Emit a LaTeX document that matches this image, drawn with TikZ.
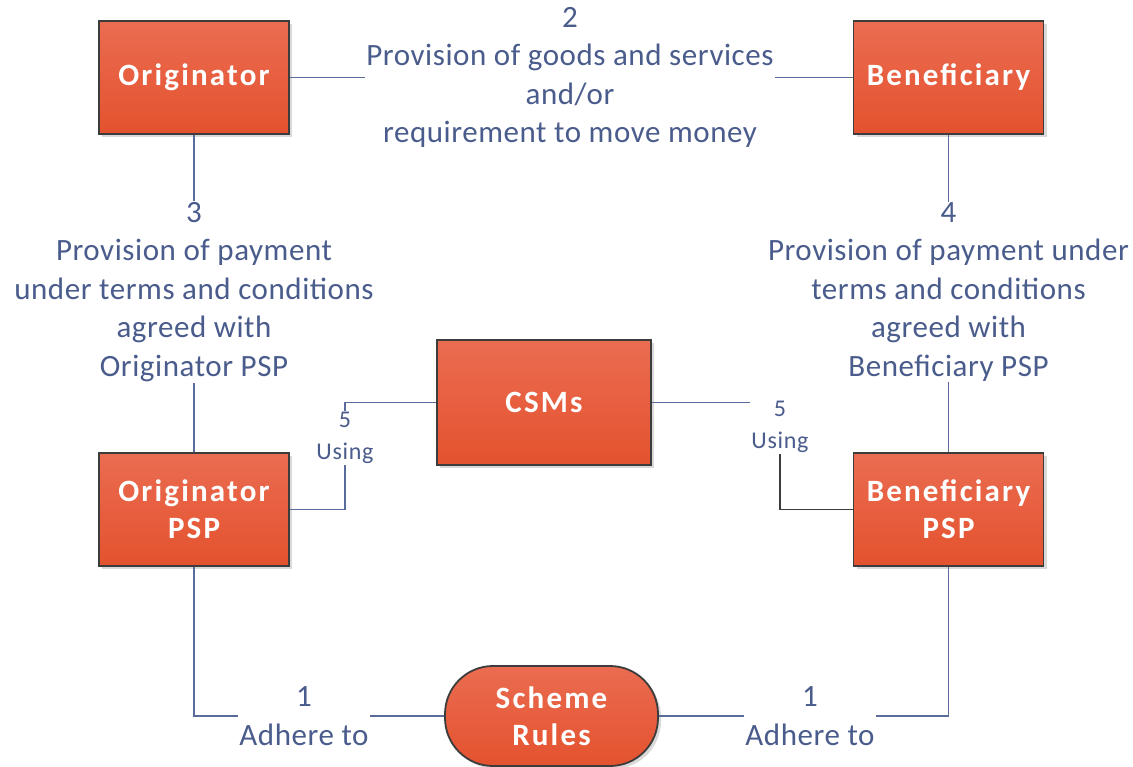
\documentclass[tikz,border=0pt]{standalone}
\usepackage{fontspec}
\setmainfont{Carlito}
\usetikzlibrary{shadows}
\definecolor{boxtop}{HTML}{EA6C51}
\definecolor{boxbot}{HTML}{E4522E}
\definecolor{txt}{HTML}{4A5C8C}
\definecolor{ln}{HTML}{5A6C9C}
\definecolor{bord}{HTML}{3C3C3C}
\tikzset{
  box/.style={draw=bord, line width=1.8pt, top color=boxtop, bottom color=boxbot,
    text=white, font=\fontsize{31}{37}\selectfont\bfseries\addfontfeatures{LetterSpace=7}, align=center,
    minimum width=190pt, minimum height=113pt, inner sep=0pt,
    drop shadow={shadow xshift=3pt, shadow yshift=-3pt, fill=black!15, opacity=1}},
  lbl/.style={fill=white, text=txt, font=\fontsize{31}{38.5}\selectfont\addfontfeatures{LetterSpace=1.8}, align=center, inner sep=1pt},
  slbl/.style={fill=white, text=txt, font=\fontsize{24}{32}\selectfont\addfontfeatures{LetterSpace=3}, align=center, inner sep=1pt},
  conn/.style={draw=ln, line width=1.5pt},
}
\begin{document}
\begin{tikzpicture}[x=1pt,y=-1pt]
\useasboundingbox (0,0) rectangle (1133,767);
% boxes
\node[box] (orig) at (194,77.5) {Originator};
\node[box] (ben) at (948.5,77.5) {Beneficiary};
\node[box, minimum width=214pt, minimum height=125pt] (csm) at (544,402.5) {CSMs};
\node[box] (opsp) at (194,509.5) {Originator\\PSP};
\node[box] (bpsp) at (948.5,509.5) {Beneficiary\\PSP};
\node[box, minimum width=213pt, minimum height=100pt, rounded corners=48pt] (rules) at (551.5,716) {Scheme\\Rules};
% connectors
\draw[conn] (orig.east) -- (ben.west);
\node[lbl] (l2) at (570,77.5) {2\\Provision of goods and services\\and/or\\requirement to move money};
\draw[conn] (orig.south) -- (opsp.north);
\node[lbl] (l3) at (194,292) {3\\Provision of payment\\under terms and conditions\\agreed with\\Originator PSP};
\draw[conn] (ben.south) -- (bpsp.north);
\node[lbl] (l4) at (948.5,292) {4\\Provision of payment under\\terms and conditions\\agreed with\\Beneficiary PSP};
\coordinate (c5a) at (345,402.5);
\draw[conn] (opsp.east) -| (c5a) -- (csm.west);
\node[slbl] (l5a) at (345,438) {5\\Using};
\coordinate (c5b) at (780,402.5);
\draw[conn] (csm.east) -- (c5b);
\draw[conn, draw=bord] (c5b) |- (bpsp.west);
\node[slbl] (l5b) at (780,427) {5\\Using};
\draw[conn] (opsp.south) |- (rules.west);
\node[lbl] (l1a) at (304,716) {1\\Adhere to};
\draw[conn] (bpsp.south) |- (rules.east);
\node[lbl] (l1b) at (810,716) {1\\Adhere to};
\end{tikzpicture}
\end{document}
